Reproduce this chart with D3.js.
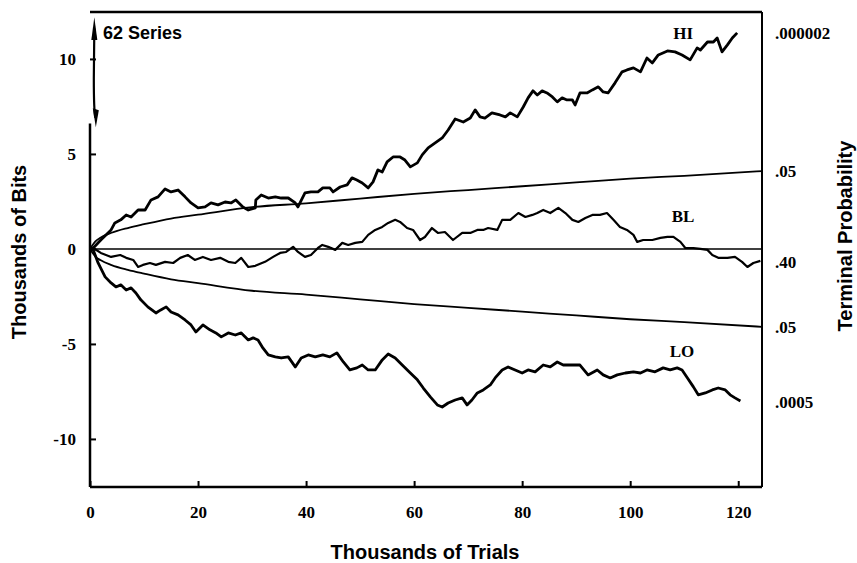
<!DOCTYPE html>
<html>
<head>
<meta charset="utf-8">
<script src="https://cdn.jsdelivr.net/npm/d3@7"></script>
<style>
  body { margin: 0; background: #fff; }
  .tick text { font-family: "Liberation Serif", "Times New Roman", serif; font-weight: bold; font-size: 17px; fill: #000; }
  .tick line { stroke: #000; stroke-width: 2; }
  .ttl { font-family: "Liberation Sans", Arial, sans-serif; font-weight: bold; font-size: 20px; fill: #000; }
  .ser { font-family: "Liberation Serif", "Times New Roman", serif; font-weight: bold; font-size: 17px; fill: #000; }
</style>
</head>
<body>
<div id="viz"></div>
<script>
// thousands of trials vs thousands of bits (cumulative deviation)
const xTicks = [0, 20, 40, 60, 80, 100, 120];
const yTicks = [-10, -5, 0, 5, 10];

const hiTrace = [[0,0],[0.6,0.05],[2.0,0.47],[3.9,1.0],[4.6,1.37],[5.7,1.53],[6.7,1.79],[7.6,1.68],[8.9,2.05],[10.2,2.05],
  [11.3,2.58],[12.6,2.74],[13.9,3.16],[15.0,3.0],[16.3,3.1],[17.6,2.74],[18.7,2.42],[20.0,2.16],[21.3,2.21],[22.4,2.42],
  [23.7,2.32],[25.0,2.47],[26.1,2.42],[27.0,2.58],[28.3,2.21],[29.3,2.05],[30.6,2.16],[30.7,2.58],[31.7,2.84],[33.0,2.68],
  [34.3,2.74],[35.4,2.68],[36.7,2.68],[38.0,2.42],[38.5,2.21],[39.8,2.95],[40.9,3.0],[42.2,3.0],[43.1,3.21],[44.4,3.21],
  [45.0,3.0],[46.3,3.26],[47.6,3.37],[48.5,3.74],[49.4,3.63],[50.4,3.47],[51.5,3.21],[52.4,3.53],[53.3,4.16],[54.1,4.05],
  [55.0,4.58],[56.1,4.84],[57.4,4.84],[58.3,4.68],[59.3,4.32],[60.6,4.53],[61.5,4.95],[62.6,5.32],[63.9,5.58],[65.2,5.84],
  [66.3,6.26],[67.6,6.84],[69.1,6.68],[70.4,6.89],[71.3,7.32],[72.2,6.95],[73.1,6.89],[74.4,7.16],[75.9,7.05],[76.9,6.95],
  [77.8,7.16],[79.1,6.95],[80.2,7.47],[81.1,7.95],[82.0,8.32],[82.8,8.1],[83.7,8.32],[84.6,8.21],[85.6,8.0],[86.5,7.74],
  [87.4,7.95],[88.3,7.84],[89.3,7.84],[89.8,7.58],[90.7,8.21],[92.0,8.21],[93.0,8.37],[94.1,8.53],[95.0,8.26],[95.9,8.21],
  [97.2,8.74],[98.5,9.32],[99.4,9.42],[100.6,9.53],[101.9,9.32],[103.1,10.05],[104.1,9.79],[105.2,10.21],[106.9,10.42],
  [108.3,10.37],[109.6,10.21],[111.1,9.95],[112.4,10.58],[113.0,10.47],[114.3,10.89],[115.4,10.89],[116.1,11.1],
  [117.0,10.37],[118.0,10.74],[118.9,11.1],[119.8,11.37]];

const blTrace = [[0,0],[0.6,0.05],[2.0,-0.21],[3.9,-0.42],[5.6,-0.32],[6.7,-0.47],[8.0,-0.58],[8.9,-0.95],[9.8,-0.84],
  [11.1,-0.74],[12.2,-0.84],[13.9,-0.68],[15.4,-0.74],[16.7,-0.47],[18.1,-0.32],[19.4,-0.58],[20.9,-0.42],[22.4,-0.58],
  [24.1,-0.47],[25.6,-0.68],[26.9,-0.74],[28.0,-0.47],[29.3,-0.95],[30.6,-0.89],[32.4,-0.68],[33.9,-0.42],[35.2,-0.21],
  [36.3,-0.16],[37.6,0.11],[38.5,-0.16],[39.8,-0.42],[40.9,-0.32],[42.2,0.05],[43.0,0.21],[44.1,0.11],[45.4,-0.05],
  [46.7,0.32],[47.8,0.21],[49.1,0.32],[50.4,0.37],[51.5,0.74],[52.8,1.0],[54.1,1.16],[55.2,1.37],[56.5,1.53],[57.4,1.42],
  [58.7,1.1],[59.8,1.0],[61.1,0.47],[62.0,0.63],[63.3,1.1],[64.4,0.84],[65.7,0.89],[67.2,0.47],[68.9,0.84],[70.4,0.84],
  [71.7,1.0],[72.8,1.0],[73.7,1.1],[75.4,1.0],[76.3,1.53],[77.8,1.53],[79.3,1.89],[80.6,1.68],[81.9,1.79],[82.8,1.89],
  [83.9,2.05],[85.2,1.89],[86.7,2.16],[88.0,1.89],[89.3,1.53],[90.4,1.42],[91.7,1.63],[93.0,1.79],[94.4,1.79],[95.7,1.89],
  [96.9,1.53],[98.1,1.16],[99.4,1.0],[100.6,0.74],[101.3,0.37],[102.4,0.47],[104.1,0.47],[105.6,0.58],[106.9,0.63],
  [108.0,0.63],[109.3,0.37],[110.2,0.05],[111.7,0.05],[113.0,0],[114.3,-0.05],[115.2,-0.32],[116.3,-0.47],[118.0,-0.47],
  [119.4,-0.42],[120.7,-0.68],[121.7,-0.95],[122.8,-0.74],[124.1,-0.63]];

const loTrace = [[0,0],[0.6,-0.05],[1.5,-0.74],[2.8,-1.47],[3.9,-1.79],[4.8,-2.0],[5.7,-1.89],[6.7,-2.16],[7.6,-2.05],
  [8.5,-2.32],[9.4,-2.68],[10.7,-3.05],[12.2,-3.37],[13.1,-3.21],[14.1,-3.05],[15.0,-3.32],[16.3,-3.47],[17.6,-3.74],
  [18.7,-4.0],[19.6,-4.37],[20.9,-4.0],[22.2,-4.26],[23.3,-4.42],[24.3,-4.63],[25.6,-4.42],[26.9,-4.53],[28.0,-4.42],
  [29.3,-4.79],[30.2,-4.68],[31.1,-4.79],[32.0,-5.21],[33.0,-5.58],[34.3,-5.68],[35.4,-5.74],[36.7,-5.68],[38.0,-6.21],
  [39.1,-5.74],[40.4,-5.58],[41.7,-5.68],[43.1,-5.58],[44.4,-5.68],[45.7,-5.47],[46.9,-5.95],[48.1,-6.37],[49.4,-6.26],
  [50.4,-6.11],[51.5,-6.37],[52.8,-6.37],[54.1,-5.84],[55.2,-5.53],[56.5,-5.74],[57.8,-6.11],[59.3,-6.53],[60.6,-6.89],
  [61.7,-7.32],[63.0,-7.79],[64.3,-8.21],[65.2,-8.32],[66.3,-8.11],[67.6,-7.95],[68.9,-7.84],[69.8,-8.21],[70.7,-7.95],
  [71.7,-7.58],[72.8,-7.42],[74.1,-7.16],[75.0,-6.79],[76.3,-6.37],[77.4,-6.21],[78.7,-6.37],[80.0,-6.53],[81.1,-6.37],
  [82.4,-6.47],[83.9,-6.11],[85.2,-6.21],[86.5,-5.95],[87.6,-6.11],[89.3,-6.11],[90.7,-6.11],[92.2,-6.63],[93.9,-6.37],
  [95.0,-6.63],[96.3,-6.79],[97.6,-6.63],[99.1,-6.53],[100.6,-6.47],[101.9,-6.53],[103.1,-6.37],[104.6,-6.47],
  [106.1,-6.26],[107.4,-6.37],[108.7,-6.26],[109.6,-6.37],[110.6,-6.79],[111.7,-7.26],[112.6,-7.68],[113.9,-7.58],
  [115.2,-7.42],[116.3,-7.32],[117.6,-7.42],[118.5,-7.68],[119.4,-7.84],[120.4,-8.0]];

// .05 envelope
const envX = [0, 1, 2, 4, 7, 10, 15, 20, 30, 40, 50, 60, 70, 80, 90, 100, 110, 124.4];
const envY = [0, 0.4, 0.6, 0.85, 1.1, 1.3, 1.6, 1.8, 2.2, 2.4, 2.65, 2.9, 3.1, 3.3, 3.5, 3.7, 3.85, 4.1];

const probLabels = [".000002", ".05", ".40", ".05", ".0005"];
const probAt = [11.37, 4.1, -0.68, -4.1, -8.05];

const seriesNames = ["HI", "BL", "LO"];
const seriesNameAt = [[109.8, 11.37], [109.8, 1.74], [109.6, -5.37]];

const W = 857, H = 563;
const svg = d3.select('#viz').append('svg').attr('width', W).attr('height', H);

const x = d3.scaleLinear().domain([0, 124.4]).range([90, 762]);
const y = d3.scaleLinear().domain([-12.53, 12.47]).range([487, 12]);

// frame
svg.append('line').attr('x1', x(0)).attr('x2', x(124.4)).attr('y1', y(12.47)).attr('y2', y(12.47))
  .attr('stroke', '#000').attr('stroke-width', 2.5);
svg.append('line').attr('x1', x(124.4)).attr('x2', x(124.4)).attr('y1', y(12.47)).attr('y2', y(-12.53))
  .attr('stroke', '#000').attr('stroke-width', 2);
svg.append('line').attr('x1', x(0)).attr('x2', x(124.4)).attr('y1', y(-12.53)).attr('y2', y(-12.53))
  .attr('stroke', '#000').attr('stroke-width', 2.5);
svg.append('line').attr('x1', x(0)).attr('x2', x(0)).attr('y1', y(6.6)).attr('y2', y(-12.53))
  .attr('stroke', '#000').attr('stroke-width', 2.5);

const yAxis = d3.axisLeft(y).tickValues(yTicks).tickSize(-6).tickPadding(14).tickFormat(d => d);
svg.append('g').attr('transform', `translate(${x(0)},0)`).call(yAxis)
  .call(g => g.select('.domain').remove());

const xAxis = d3.axisBottom(x).tickValues(xTicks).tickSize(-6).tickPadding(19);
svg.append('g').attr('transform', `translate(0,${y(-12.53)})`).call(xAxis)
  .call(g => g.select('.domain').remove());

// double arrow at the top of the y axis
const ax = x(0.8);
svg.append('path')
  .attr('d', `M${ax},${y(11.6)} L${ax - 0.5},${y(9)} Q${ax - 0.5},${y(7.3)} ${ax + 1},${y(6.9)}`)
  .attr('fill', 'none').attr('stroke', '#000').attr('stroke-width', 2.2);
svg.append('path')
  .attr('d', `M${ax},${y(12.2)} L${ax + 3},${y(11.0)} L${ax - 3},${y(11.0)} Z`).attr('fill', '#000');
svg.append('path')
  .attr('d', `M${ax + 1.5},${y(6.4)} L${ax + 4.5},${y(7.3)} L${ax - 1.5},${y(7.4)} Z`).attr('fill', '#000');

const line = d3.line().x(d => x(d[0])).y(d => y(d[1]));

// zero line and envelope
svg.append('path').attr('d', line([[0, 0], [124.4, 0]])).attr('fill', 'none')
  .attr('stroke', '#000').attr('stroke-width', 1.6);
const env = envX.map((v, i) => [v, envY[i]]);
svg.append('path').attr('d', line.curve(d3.curveMonotoneX)(env)).attr('fill', 'none')
  .attr('stroke', '#000').attr('stroke-width', 1.8);
svg.append('path').attr('d', line(env.map(d => [d[0], -d[1]]))).attr('fill', 'none')
  .attr('stroke', '#000').attr('stroke-width', 1.8);
line.curve(d3.curveLinear);

// the three traces
[hiTrace, blTrace, loTrace].forEach((t, i) => {
  svg.append('path').attr('d', line(t)).attr('fill', 'none')
    .attr('stroke', '#000').attr('stroke-width', i == 1 ? 2.2 : 2.8).attr('stroke-linejoin', 'round');
});

svg.selectAll('text.ser').data(seriesNames).enter().append('text').attr('class', 'ser')
  .attr('x', (d, i) => x(seriesNameAt[i][0])).attr('y', (d, i) => y(seriesNameAt[i][1]))
  .attr('text-anchor', 'middle').attr('dy', '0.35em').text(d => d);

svg.selectAll('text.prob').data(probLabels).enter().append('text').attr('class', 'ser prob')
  .attr('x', x(124.4) + 13).attr('y', (d, i) => y(probAt[i])).attr('dy', '0.35em').text(d => d);

svg.append('text').attr('class', 'ttl').attr('x', x(2.4)).attr('y', y(11.37)).attr('dy', '0.35em')
  .style('font-size', '18px').text('62 Series');

svg.append('text').attr('class', 'ttl').attr('x', 425).attr('y', 559).attr('text-anchor', 'middle')
  .text('Thousands of Trials');
svg.append('text').attr('class', 'ttl').attr('transform', 'translate(26,252) rotate(-90)')
  .attr('text-anchor', 'middle').text('Thousands of Bits');
svg.append('text').attr('class', 'ttl').attr('transform', 'translate(852,236) rotate(-90)')
  .attr('text-anchor', 'middle').text('Terminal Probability');
</script>
</body>
</html>
